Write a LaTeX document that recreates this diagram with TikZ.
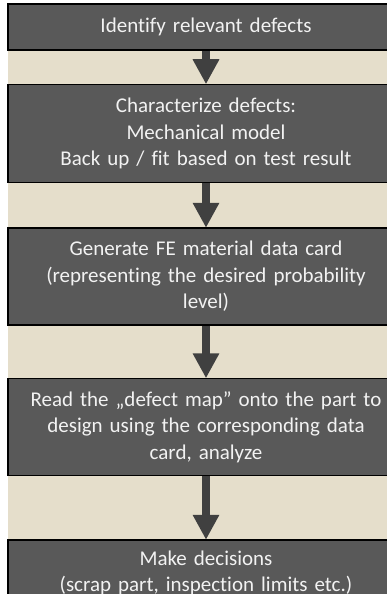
\documentclass[tikz,border=0pt]{standalone}
\usepackage{fontspec}
\setmainfont{Carlito}[Ligatures=NoCommon]
\usepackage{tikz}
\usetikzlibrary{positioning, arrows.meta}

\definecolor{boxgrey}{HTML}{595959}
\definecolor{paper}{HTML}{E5DECB}
\definecolor{arrowgrey}{HTML}{404040}
\definecolor{txt}{HTML}{F2F2F2}

\begin{document}
\begin{tikzpicture}[x=1pt, y=1pt,
    stepbox/.style={rectangle, draw=black, line width=1.5pt, fill=boxgrey, text=txt,
        minimum width=396pt, text width=380pt, align=center, inner sep=2pt,
        font=\fontsize{21}{26.5}\selectfont},
    flow/.style={draw=arrowgrey, line width=8pt, -{Triangle[width=25pt, length=25pt]}, shorten >=-0.5pt}]
            \useasboundingbox (0,0) rectangle (387,-594);
            \fill[paper] (8,-4) rectangle (400,-640);
            \node[stepbox, minimum height=46pt] (ident) at (206,-27) {Identify relevant defects};
            \node[stepbox, minimum height=98pt, below=33pt of ident] (charac) {Characterize defects:\\ Mechanical model\\ Back up / fit based on test result};
            \node[stepbox, minimum height=97pt, below=44pt of charac] (card) {Generate FE material data card\\ (representing the desired probability\\ level)};
            \node[stepbox, minimum height=97pt, below=52pt of card] (read) {Read the „defect map” onto the part to\\ design using the corresponding data\\ card, analyze};
            \node[stepbox, minimum height=66pt, below=63pt of read] (decide) {Make decisions\\ (scrap part, inspection limits etc.)};

            \draw[flow] (ident) -- (charac);
            \draw[flow] (charac) -- (card);
            \draw[flow] (card) -- (read);
            \draw[flow] (read) -- (decide);
\end{tikzpicture}
\end{document}
